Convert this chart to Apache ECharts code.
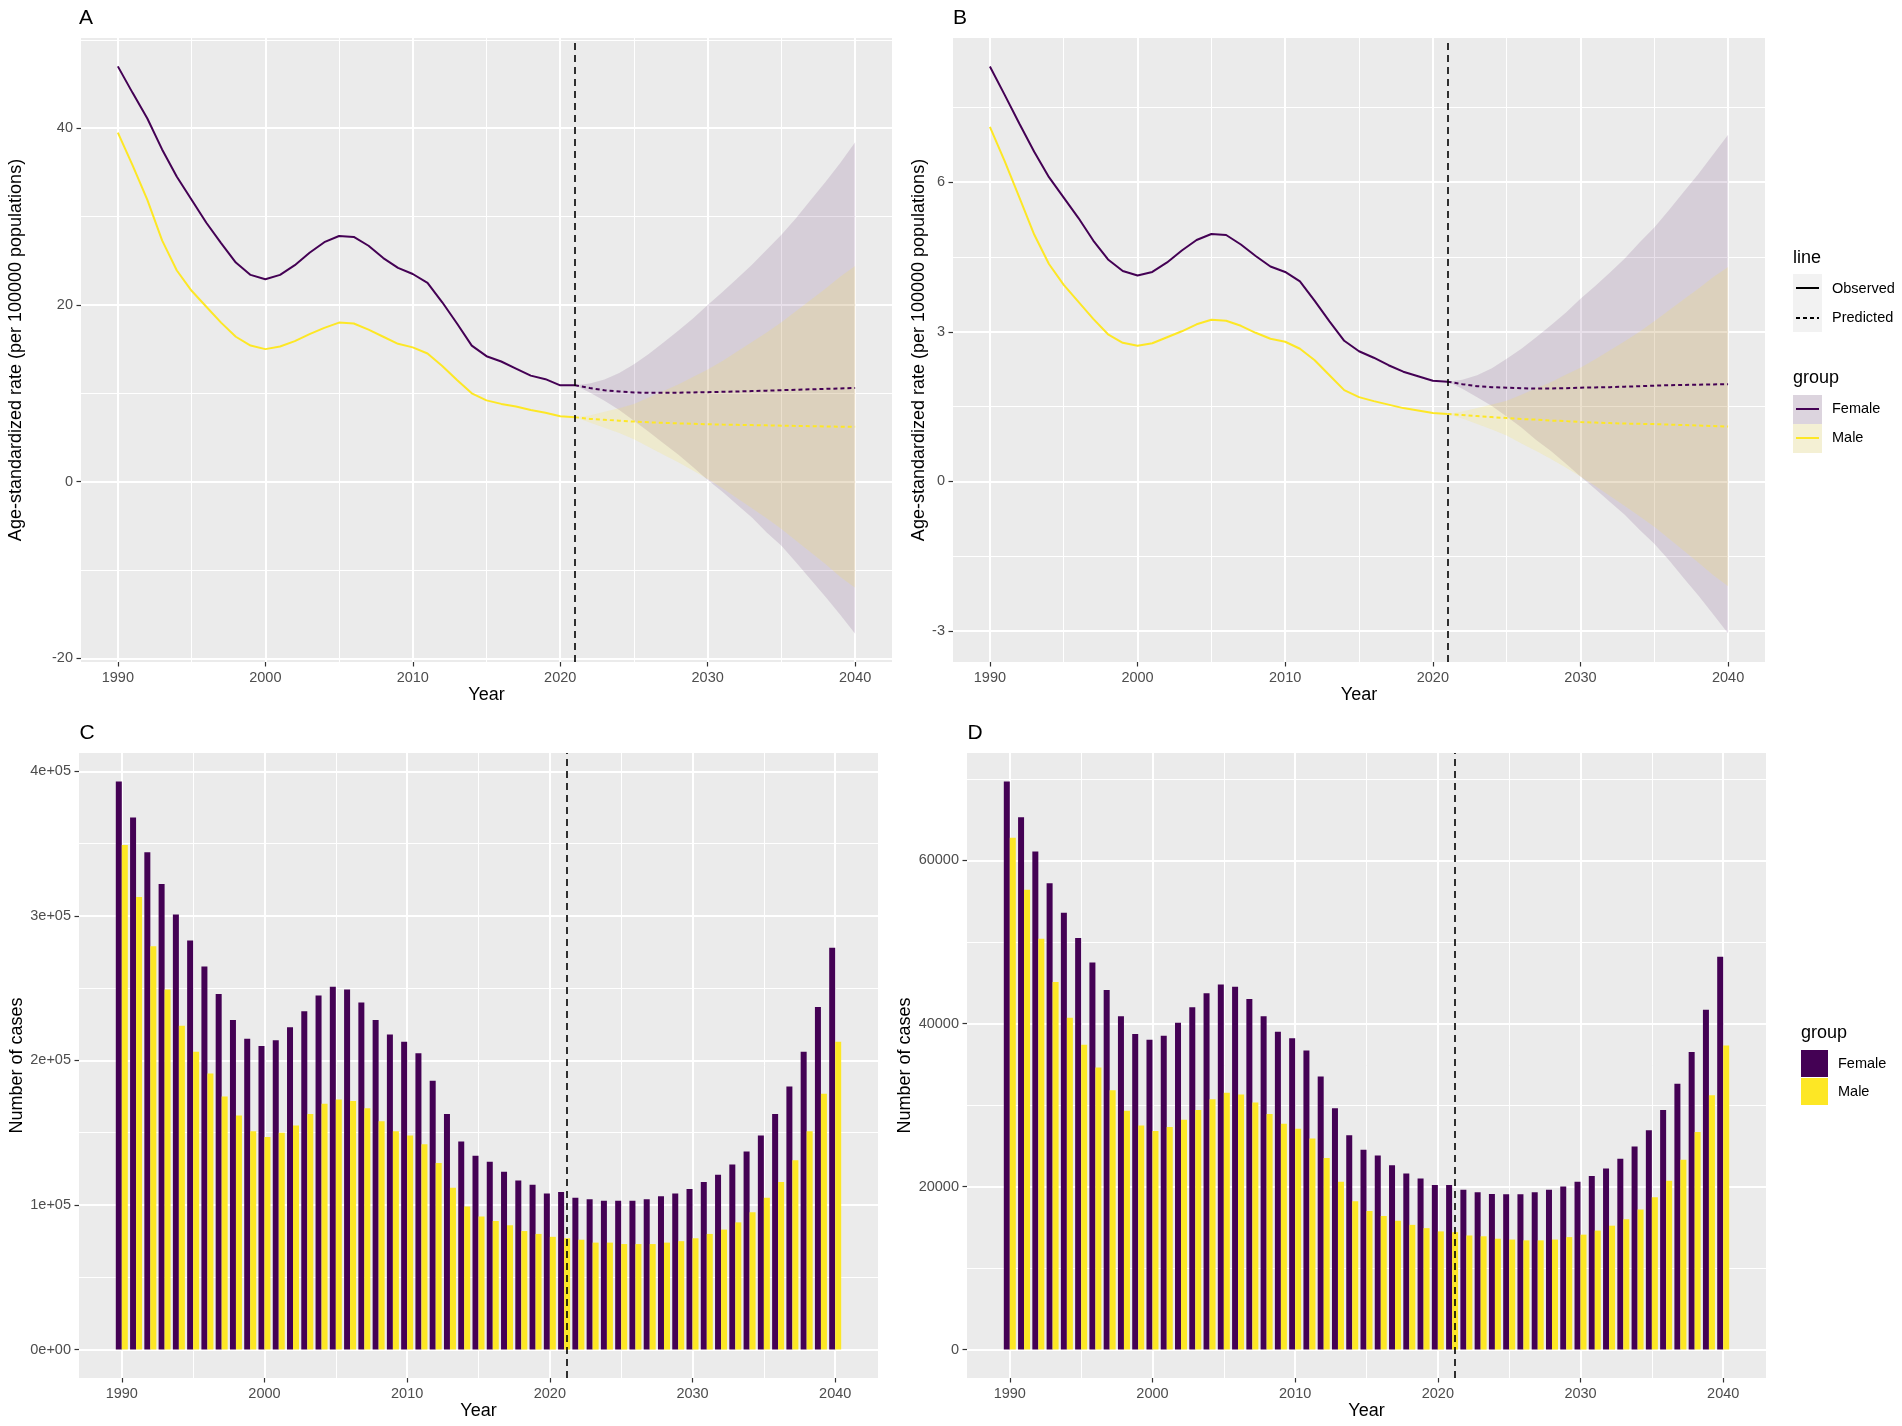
<!DOCTYPE html>
<html>
<head>
<meta charset="UTF-8">
<title>Age-standardized rate and number of cases, 1990-2040</title>
<style type="text/css">
  html, body { margin: 0; padding: 0; background: #ffffff; }
  #main { width: 1902px; height: 1426px; }
</style>
</head>
<body>
<div id="main"></div>
<script src="https://cdn.jsdelivr.net/npm/echarts@6.0.0/dist/echarts.min.js"></script>
<script type="text/javascript">
// ---- data ----
function range(a, b) { var r = []; for (var i = a; i <= b; i++) r.push(i); return r; }
var obsYears = range(1990, 2021);
var predYears = range(2021, 2040);
var barYears = range(1990, 2040);

// panel A: age-standardized rate
var aFemaleObs = [47.0, 44.0, 41.1, 37.6, 34.5, 31.9, 29.3, 27.0, 24.8, 23.4,
  22.9, 23.4, 24.5, 25.9, 27.1, 27.8, 27.7, 26.7, 25.3, 24.2,
  23.5, 22.5, 20.3, 17.9, 15.4, 14.2, 13.6, 12.8, 12.0, 11.6, 10.9, 10.9];
var aMaleObs = [39.5, 35.8, 31.9, 27.3, 23.9, 21.6, 19.8, 18.0, 16.4, 15.4,
  15.0, 15.3, 15.9, 16.7, 17.4, 18.0, 17.9, 17.2, 16.4, 15.6,
  15.2, 14.5, 13.1, 11.5, 10.0, 9.2, 8.8, 8.5, 8.1, 7.8, 7.4, 7.3];
var aFemalePred = [10.9, 10.6, 10.35, 10.2, 10.1, 10.05, 10.05, 10.07, 10.1, 10.13,
  10.17, 10.2, 10.25, 10.3, 10.35, 10.4, 10.45, 10.5, 10.55, 10.6];
var aFemaleUpper = [10.9, 11.1, 11.55, 12.3, 13.3, 14.45, 15.75, 17.07, 18.47, 20.0,
  21.47, 23.0, 24.55, 26.25, 27.95, 29.85, 31.9, 33.95, 36.1, 38.4];
var aFemaleLower = [10.9, 10.1, 9.15, 8.1, 6.9, 5.65, 4.35, 3.07, 1.67, 0.2,
  -1.13, -2.6, -4.05, -5.75, -7.25, -9.15, -11.1, -13.05, -15.1, -17.2];
var aMalePred = [7.3, 7.1, 7.0, 6.9, 6.8, 6.72, 6.65, 6.6, 6.55, 6.5,
  6.46, 6.43, 6.4, 6.37, 6.34, 6.31, 6.28, 6.25, 6.22, 6.2];
var aMaleUpper = [7.3, 7.5, 7.9, 8.3, 8.8, 9.52, 10.25, 11.0, 11.85, 12.7,
  13.66, 14.73, 15.8, 16.87, 18.04, 19.31, 20.58, 21.85, 23.22, 24.4];
var aMaleLower = [7.3, 6.7, 6.1, 5.5, 4.8, 3.92, 3.05, 2.2, 1.25, 0.3,
  -0.74, -1.87, -3.0, -4.13, -5.36, -6.69, -8.02, -9.35, -10.78, -12.0];

// panel B: age-standardized rate
var bFemaleObs = [8.32, 7.75, 7.17, 6.61, 6.10, 5.69, 5.28, 4.83, 4.45, 4.22,
  4.13, 4.20, 4.39, 4.63, 4.84, 4.96, 4.94, 4.75, 4.52, 4.31,
  4.20, 4.01, 3.62, 3.21, 2.82, 2.61, 2.48, 2.33, 2.20, 2.11, 2.02, 2.00];
var bMaleObs = [7.11, 6.42, 5.69, 4.95, 4.36, 3.94, 3.60, 3.26, 2.95, 2.78,
  2.72, 2.77, 2.89, 3.01, 3.15, 3.24, 3.22, 3.12, 2.98, 2.86,
  2.80, 2.66, 2.43, 2.13, 1.83, 1.69, 1.61, 1.54, 1.47, 1.42, 1.37, 1.35];
var bFemalePred = [2.00, 1.95, 1.91, 1.89, 1.88, 1.87, 1.86, 1.865, 1.87, 1.88,
  1.885, 1.89, 1.90, 1.91, 1.92, 1.93, 1.935, 1.94, 1.945, 1.95];
var bFemaleUpper = [2.00, 2.04, 2.13, 2.27, 2.46, 2.66, 2.89, 3.13, 3.38, 3.66,
  3.92, 4.19, 4.47, 4.79, 5.09, 5.44, 5.81, 6.17, 6.56, 6.95];
var bFemaleLower = [2.00, 1.86, 1.69, 1.51, 1.30, 1.08, 0.83, 0.61, 0.36, 0.10,
  -0.15, -0.41, -0.67, -0.97, -1.25, -1.58, -1.94, -2.29, -2.67, -3.05];
var bMalePred = [1.35, 1.33, 1.31, 1.29, 1.27, 1.25, 1.24, 1.22, 1.21, 1.19,
  1.18, 1.17, 1.16, 1.155, 1.15, 1.14, 1.13, 1.12, 1.11, 1.10];
var bMaleUpper = [1.35, 1.40, 1.47, 1.54, 1.62, 1.74, 1.87, 1.99, 2.14, 2.28,
  2.45, 2.63, 2.81, 3.00, 3.21, 3.43, 3.65, 3.87, 4.10, 4.30];
var bMaleLower = [1.35, 1.26, 1.15, 1.04, 0.92, 0.76, 0.61, 0.45, 0.28, 0.10,
  -0.09, -0.29, -0.49, -0.70, -0.91, -1.15, -1.39, -1.63, -1.88, -2.10];

// panel C: number of cases
var cFemale = [393000, 368000, 344000, 322000, 301000, 283000, 265000, 246000, 228000, 215000,
  210000, 214000, 223000, 234000, 245000, 251000, 249000, 240000, 228000, 218000,
  213000, 205000, 186000, 163000, 144000, 134000, 130000, 123000, 117000, 114000,
  108000, 109000, 105000, 104000, 103000, 103000, 103000, 104000, 106000, 108000,
  111000, 116000, 121000, 128000, 137000, 148000, 163000, 182000, 206000, 237000, 278000];
var cMale = [349000, 313000, 279000, 249000, 224000, 206000, 191000, 175000, 162000, 151000,
  147000, 150000, 155000, 163000, 170000, 173000, 172000, 167000, 158000, 151000,
  148000, 142000, 129000, 112000, 99000, 92000, 89000, 86000, 82000, 80000,
  78000, 77000, 76000, 74000, 74000, 73000, 73000, 73000, 74000, 75000,
  77000, 80000, 83000, 88000, 95000, 105000, 116000, 131000, 151000, 177000, 213000];

// panel D: number of cases
var dFemale = [69700, 65300, 61100, 57200, 53600, 50500, 47500, 44100, 40900, 38700,
  38000, 38500, 40100, 42000, 43700, 44800, 44500, 43000, 40900, 39000,
  38200, 36700, 33500, 29600, 26300, 24500, 23800, 22600, 21600, 21000,
  20200, 20200, 19600, 19300, 19100, 19050, 19050, 19300, 19600, 20000,
  20600, 21300, 22200, 23400, 24900, 26900, 29400, 32600, 36500, 41700, 48200];
var dMale = [62800, 56400, 50400, 45100, 40700, 37400, 34600, 31800, 29300, 27500,
  26800, 27300, 28200, 29400, 30700, 31500, 31300, 30300, 28900, 27700,
  27100, 25900, 23500, 20600, 18200, 17000, 16400, 15800, 15300, 14900,
  14500, 14400, 14000, 13900, 13600, 13500, 13400, 13400, 13500, 13800,
  14100, 14600, 15200, 16000, 17200, 18700, 20700, 23300, 26700, 31200, 37300];

var cutYear = 2021;

// ticks
var xMajor = [1990, 2000, 2010, 2020, 2030, 2040];
var xMinor = [1995, 2005, 2015, 2025, 2035];
var aYMajor = [-20, 0, 20, 40];
var aYMinor = [-10, 10, 30, 50];
var bYMajor = [-3, 0, 3, 6];
var bYMinor = [-1.5, 1.5, 4.5, 7.5];
var cYMajor = [0, 100000, 200000, 300000, 400000];
var cYLabels = ['0e+00', '1e+05', '2e+05', '3e+05', '4e+05'];
var cYMinor = [50000, 150000, 250000, 350000];
var dYMajor = [0, 20000, 40000, 60000];
var dYMinor = [10000, 30000, 50000, 70000];

// ---- styling ----
var FEMALE = '#440154', MALE = '#FDE725';
var FEMALE_BAND = 'rgba(68,1,84,0.12)', MALE_BAND = 'rgba(253,231,37,0.15)';
var FONT = "'Liberation Sans', Arial, sans-serif";
var TICK_COL = '#4D4D4D';

function pairs(xs, ys) {
  var r = [];
  for (var i = 0; i < xs.length; i++) r.push([xs[i], ys[i]]);
  return r;
}
function plain(v) { return String(v); }

var grids = [
  { left: 81, top: 38, width: 811, height: 624 },
  { left: 953, top: 38, width: 812, height: 624 },
  { left: 79, top: 753, width: 799, height: 625 },
  { left: 967, top: 753, width: 799, height: 625 }
].map(function (g) {
  g.show = true; g.backgroundColor = '#EBEBEB'; g.borderWidth = 0; g.containLabel = false;
  return g;
});

function mainX(gi, min, max, nameGap) {
  return {
    type: 'value', gridIndex: gi, min: min, max: max, position: 'bottom',
    axisLine: { show: false, onZero: false },
    axisTick: { show: true, length: 4.5, customValues: xMajor, lineStyle: { color: '#333333', width: 1.2 } },
    axisLabel: { customValues: xMajor, margin: 8, color: TICK_COL, fontSize: 14.5, fontFamily: FONT, formatter: plain },
    splitLine: { show: true, customValues: xMajor, lineStyle: { color: '#ffffff', width: 2 } },
    name: 'Year', nameLocation: 'middle', nameGap: nameGap,
    nameTextStyle: { color: '#000000', fontSize: 18, fontFamily: FONT }
  };
}
function minorX(gi, min, max) {
  return {
    type: 'value', gridIndex: gi, min: min, max: max, position: 'top',
    axisLine: { show: false, onZero: false },
    axisTick: { show: false, customValues: xMinor },
    axisLabel: { show: false, customValues: xMinor },
    splitLine: { show: true, customValues: xMinor, lineStyle: { color: '#ffffff', width: 1 } }
  };
}
function mainY(gi, min, max, major, name, nameGap, fmt) {
  return {
    type: 'value', gridIndex: gi, min: min, max: max, position: 'left',
    axisLine: { show: false, onZero: false },
    axisTick: { show: true, length: 4.5, customValues: major, lineStyle: { color: '#333333', width: 1.2 } },
    axisLabel: { customValues: major, margin: 8, color: TICK_COL, fontSize: 14.5, fontFamily: FONT, formatter: fmt || plain },
    splitLine: { show: true, customValues: major, lineStyle: { color: '#ffffff', width: 2 } },
    name: name, nameLocation: 'middle', nameGap: nameGap, nameRotate: 90,
    nameTextStyle: { color: '#000000', fontSize: 18, fontFamily: FONT }
  };
}
function minorY(gi, min, max, minor) {
  return {
    type: 'value', gridIndex: gi, min: min, max: max, position: 'right',
    axisLine: { show: false, onZero: false },
    axisTick: { show: false, customValues: minor },
    axisLabel: { show: false, customValues: minor },
    splitLine: { show: true, customValues: minor, lineStyle: { color: '#ffffff', width: 1 } }
  };
}

var rateTitle = 'Age-standardized rate (per 100000 populations)';
var xAxes = [
  mainX(0, 1987.5, 2042.5, 24), mainX(1, 1987.5, 2042.5, 24),
  mainX(2, 1987.0, 2043.0, 23), mainX(3, 1987.0, 2043.0, 23),
  minorX(0, 1987.5, 2042.5), minorX(1, 1987.5, 2042.5),
  minorX(2, 1987.0, 2043.0), minorX(3, 1987.0, 2043.0)
];
var yAxes = [
  mainY(0, -20.41, 50.21, aYMajor, rateTitle, 56),
  mainY(1, -3.62, 8.89, bYMajor, rateTitle, 25),
  mainY(2, -19650, 412650, cYMajor, 'Number of cases', 53, function (v) {
    var i = cYMajor.indexOf(v); return i >= 0 ? cYLabels[i] : '';
  }),
  mainY(3, -3485, 73185, dYMajor, 'Number of cases', 53),
  minorY(0, -20.41, 50.21, aYMinor), minorY(1, -3.62, 8.89, bYMinor),
  minorY(2, -19650, 412650, cYMinor), minorY(3, -3485, 73185, dYMinor)
];

var cutLine = {
  silent: true, symbol: ['none', 'none'], animation: false,
  label: { show: false },
  lineStyle: { color: '#000000', type: [7, 5], width: 1.6 },
  data: [{ xAxis: cutYear }]
};

function ribbon(gi, upper, lower, color) {
  return {
    type: 'custom', xAxisIndex: gi, yAxisIndex: gi, z: 1, silent: true,
    data: [[predYears[0], upper[0]]],
    renderItem: function (params, api) {
      var pts = [];
      for (var i = 0; i < predYears.length; i++) pts.push(api.coord([predYears[i], upper[i]]));
      for (var j = predYears.length - 1; j >= 0; j--) pts.push(api.coord([predYears[j], lower[j]]));
      return { type: 'polygon', shape: { points: pts }, style: { fill: color, stroke: null } };
    }
  };
}
function line(gi, years, vals, color, dashed, mark) {
  var s = {
    type: 'line', xAxisIndex: gi, yAxisIndex: gi, z: 3,
    data: pairs(years, vals), showSymbol: false, symbol: 'none', smooth: false,
    lineStyle: { color: color, width: 2, type: dashed ? [4, 3] : 'solid' }
  };
  if (mark) s.markLine = cutLine;
  return s;
}
function bars(gi, vals, color, mark) {
  var s = {
    type: 'bar', xAxisIndex: gi, yAxisIndex: gi, z: 2,
    data: pairs(barYears, vals), barWidth: 6, barGap: '0%',
    itemStyle: { color: color }
  };
  if (mark) s.markLine = cutLine;
  return s;
}

var series = [
  ribbon(0, aFemaleUpper, aFemaleLower, FEMALE_BAND),
  ribbon(0, aMaleUpper, aMaleLower, MALE_BAND),
  line(0, obsYears, aFemaleObs, FEMALE, false),
  line(0, obsYears, aMaleObs, MALE, false),
  line(0, predYears, aFemalePred, FEMALE, true),
  line(0, predYears, aMalePred, MALE, true, true),

  ribbon(1, bFemaleUpper, bFemaleLower, FEMALE_BAND),
  ribbon(1, bMaleUpper, bMaleLower, MALE_BAND),
  line(1, obsYears, bFemaleObs, FEMALE, false),
  line(1, obsYears, bMaleObs, MALE, false),
  line(1, predYears, bFemalePred, FEMALE, true),
  line(1, predYears, bMalePred, MALE, true, true),

  bars(2, cFemale, FEMALE, false),
  bars(2, cMale, MALE, true),
  bars(3, dFemale, FEMALE, false),
  bars(3, dMale, MALE, true)
];

// panel tags and ggplot-style legends
function txt(x, y, s, size, align) {
  return { type: 'text', x: x, y: y, silent: true,
    style: { text: s, fill: '#000000', font: size + 'px ' + FONT, textAlign: align || 'left', textVerticalAlign: 'middle' } };
}
function keyRect(x, y, w, h, fill) {
  return { type: 'rect', shape: { x: x, y: y, width: w, height: h }, silent: true, style: { fill: fill } };
}
function keyLine(x1, x2, y, color, dash) {
  return { type: 'line', shape: { x1: x1, y1: y, x2: x2, y2: y }, silent: true,
    style: { stroke: color, lineWidth: 2, lineDash: dash || null } };
}

var graphics = [
  txt(86, 18, 'A', 21, 'center'), txt(960, 18, 'B', 21, 'center'),
  txt(87, 733, 'C', 21, 'center'), txt(975, 733, 'D', 21, 'center'),

  txt(1793, 258, 'line', 18),
  keyRect(1793, 274, 29, 58, '#F2F2F2'),
  keyLine(1796, 1819, 288, '#000000'),
  keyLine(1796, 1819, 318, '#000000', [4, 3]),
  txt(1832, 289, 'Observed', 14.5), txt(1832, 318, 'Predicted', 14.5),

  txt(1793, 378, 'group', 18),
  keyRect(1793, 395, 29, 58, '#F2F2F2'),
  keyRect(1793, 395, 29, 29, FEMALE_BAND),
  keyRect(1793, 424, 29, 29, MALE_BAND),
  keyLine(1796, 1819, 409, FEMALE), keyLine(1796, 1819, 438, MALE),
  txt(1832, 409, 'Female', 14.5), txt(1832, 438, 'Male', 14.5),

  txt(1801, 1033, 'group', 18),
  keyRect(1801, 1050, 27, 27, FEMALE),
  keyRect(1801, 1078, 27, 27, MALE),
  txt(1838, 1064, 'Female', 14.5), txt(1838, 1092, 'Male', 14.5)
];

var myChart = echarts.init(document.getElementById('main'), null, { renderer: 'canvas' });
myChart.setOption({
  animation: false,
  backgroundColor: '#ffffff',
  textStyle: { fontFamily: FONT },
  grid: grids,
  xAxis: xAxes,
  yAxis: yAxes,
  series: series,
  graphic: graphics
});
</script>
</body>
</html>
